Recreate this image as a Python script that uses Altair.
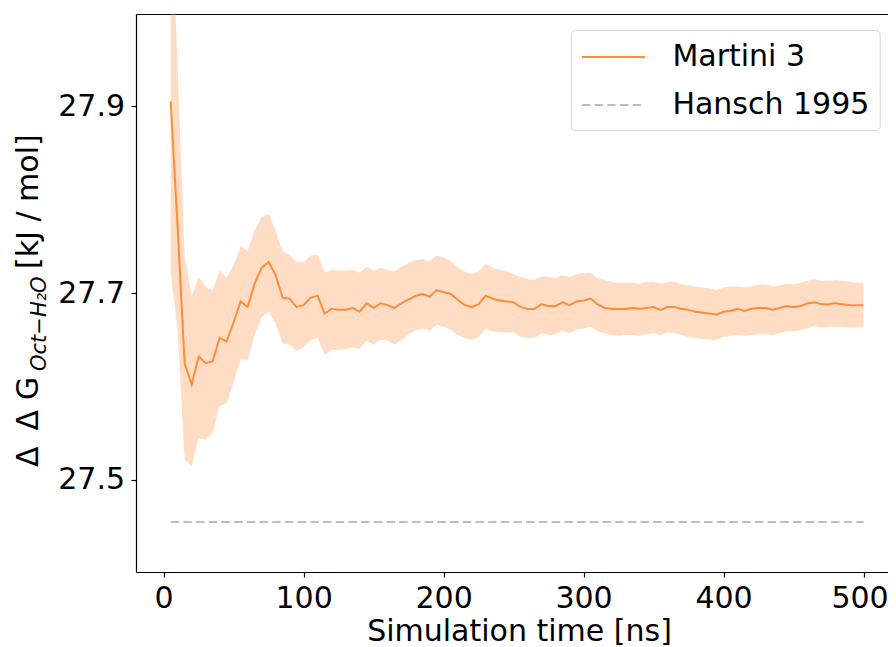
import altair as alt
import pandas as pd

# ---------------- data ----------------
time_ns = [5, 10, 15, 20, 25, 30, 35, 40, 45, 50,
           55, 60, 65, 70, 75, 80, 85, 90, 95, 100,
           105, 110, 115, 120, 125, 130, 135, 140, 145, 150,
           155, 160, 165, 170, 175, 180, 185, 190, 195, 200,
           205, 210, 215, 220, 225, 230, 235, 240, 245, 250,
           255, 260, 265, 270, 275, 280, 285, 290, 295, 300,
           305, 310, 315, 320, 325, 330, 335, 340, 345, 350,
           355, 360, 365, 370, 375, 380, 385, 390, 395, 400,
           405, 410, 415, 420, 425, 430, 435, 440, 445, 450,
           455, 460, 465, 470, 475, 480, 485, 490, 495, 500]

martini_mean = [27.905, 27.770, 27.625, 27.602, 27.632, 27.625, 27.627, 27.652, 27.648, 27.669,
                27.691, 27.685, 27.710, 27.727, 27.733, 27.719, 27.695, 27.694, 27.685, 27.687,
                27.695, 27.697, 27.678, 27.683, 27.682, 27.682, 27.684, 27.680, 27.689, 27.684,
                27.689, 27.687, 27.684, 27.689, 27.693, 27.697, 27.699, 27.696, 27.703, 27.701,
                27.699, 27.693, 27.687, 27.685, 27.688, 27.697, 27.694, 27.692, 27.691, 27.690,
                27.685, 27.683, 27.683, 27.688, 27.686, 27.686, 27.690, 27.687, 27.691, 27.692,
                27.694, 27.688, 27.684, 27.683, 27.683, 27.683, 27.684, 27.683, 27.684, 27.685,
                27.682, 27.685, 27.685, 27.683, 27.682, 27.680, 27.679, 27.678, 27.677, 27.680,
                27.681, 27.683, 27.681, 27.683, 27.684, 27.684, 27.682, 27.684, 27.686, 27.685,
                27.686, 27.689, 27.690, 27.688, 27.688, 27.689, 27.688, 27.687, 27.687, 27.687]

martini_upper = [28.140, 27.940, 27.740, 27.696, 27.717, 27.707, 27.703, 27.724, 27.716, 27.730,
                 27.750, 27.745, 27.767, 27.781, 27.785, 27.767, 27.744, 27.741, 27.733, 27.733,
                 27.740, 27.741, 27.722, 27.725, 27.724, 27.724, 27.725, 27.722, 27.728, 27.724,
                 27.727, 27.725, 27.723, 27.728, 27.732, 27.735, 27.736, 27.734, 27.740, 27.738,
                 27.734, 27.728, 27.723, 27.720, 27.723, 27.731, 27.727, 27.725, 27.723, 27.720,
                 27.717, 27.715, 27.714, 27.718, 27.717, 27.716, 27.719, 27.717, 27.720, 27.721,
                 27.722, 27.716, 27.714, 27.712, 27.711, 27.711, 27.711, 27.710, 27.712, 27.712,
                 27.710, 27.712, 27.712, 27.709, 27.708, 27.707, 27.706, 27.705, 27.703, 27.706,
                 27.707, 27.707, 27.706, 27.707, 27.709, 27.709, 27.707, 27.708, 27.710, 27.709,
                 27.711, 27.713, 27.715, 27.713, 27.713, 27.714, 27.713, 27.712, 27.711, 27.711]

martini_lower = [27.723, 27.660, 27.522, 27.515, 27.545, 27.543, 27.551, 27.579, 27.582, 27.605,
                 27.629, 27.628, 27.655, 27.674, 27.680, 27.668, 27.646, 27.645, 27.638, 27.642,
                 27.650, 27.652, 27.634, 27.639, 27.639, 27.640, 27.642, 27.640, 27.649, 27.645,
                 27.650, 27.649, 27.645, 27.650, 27.656, 27.660, 27.662, 27.660, 27.666, 27.664,
                 27.661, 27.655, 27.652, 27.650, 27.653, 27.662, 27.659, 27.658, 27.658, 27.658,
                 27.653, 27.652, 27.652, 27.657, 27.655, 27.656, 27.660, 27.657, 27.661, 27.662,
                 27.664, 27.659, 27.657, 27.655, 27.654, 27.655, 27.655, 27.654, 27.656, 27.657,
                 27.655, 27.658, 27.657, 27.655, 27.653, 27.652, 27.651, 27.650, 27.650, 27.653,
                 27.654, 27.655, 27.654, 27.655, 27.656, 27.656, 27.655, 27.657, 27.659, 27.659,
                 27.660, 27.662, 27.665, 27.663, 27.664, 27.664, 27.664, 27.663, 27.663, 27.664]

hansch_time = [5, 500]
hansch_value = [27.455, 27.455]

series_names = ["Martini 3", "Hansch 1995"]
series_colors = ["#fd8d3c", "#bdbdbd"]
series_dashes = [[1, 0], [8.5, 4.2]]

x_ticks = [0, 100, 200, 300, 400, 500]
y_ticks = [27.5, 27.7, 27.9]

FONT = "DejaVu Sans"

# ---------------- tables ----------------
band_df = pd.DataFrame({"t": time_ns, "lo": martini_lower, "hi": martini_upper})
line_df = pd.concat([
    pd.DataFrame({"t": time_ns, "v": martini_mean, "series": series_names[0]}),
    pd.DataFrame({"t": hansch_time, "v": hansch_value, "series": series_names[1]}),
], ignore_index=True)

xscale = alt.Scale(domain=[-19.75, 517.5], nice=False, zero=False)
yscale = alt.Scale(domain=[27.4016, 27.9984], nice=False, zero=False)

y_axis = alt.Axis(values=y_ticks, format=".1f", title=None, labelPadding=6.5,
                  tickSize=5, grid=False)

band = alt.Chart(band_df).mark_area(color="#fd8d3c", opacity=0.3, clip=True).encode(
    x=alt.X("t:Q", scale=xscale,
            axis=alt.Axis(values=x_ticks, title="Simulation time [ns]", grid=False,
                          tickSize=5, labelPadding=6, labelFlush=False,
                          labelOverlap=False, titleX=383, titleY=68,
                          titleBaseline="alphabetic",
                          labelOffset={"condition": {"test": "datum.value === 500",
                                                     "value": -4},
                                       "value": 0})),
    y=alt.Y("lo:Q", scale=yscale, axis=y_axis),
    y2="hi:Q",
)

legend = alt.Legend(title=None, orient="none", legendX=434.7, legendY=16,
                    direction="vertical", fillColor="white", strokeColor="#d6d6d6",
                    cornerRadius=4, padding=10, labelFont=FONT, labelFontSize=30,
                    labelColor="black", labelLimit=0, symbolType="M-1,0L3,0",
                    symbolSize=1000, symbolStrokeWidth=2, labelOffset=57.7,
                    rowPadding=16)

lines = alt.Chart(line_df).mark_line(strokeWidth=2, clip=True).encode(
    x=alt.X("t:Q", scale=xscale,
            axis=alt.Axis(orient="top", labels=False, ticks=False, domain=True,
                          title=None, grid=False)),
    y=alt.Y("v:Q", scale=yscale, axis=y_axis),
    color=alt.Color("series:N", scale=alt.Scale(domain=series_names, range=series_colors),
                    legend=legend),
    strokeDash=alt.StrokeDash("series:N",
                              scale=alt.Scale(domain=series_names, range=series_dashes),
                              legend=legend),
)

# y-axis title pieces (mathtext-like with subscript)
def title_piece(txt, px, py, size=30, style="normal"):
    return alt.Chart(pd.DataFrame({"k": [0]})).mark_text(
        angle=270, align="left", baseline="alphabetic", font=FONT,
        fontSize=size, fontStyle=style, color="black"
    ).encode(x=alt.value(px), y=alt.value(py), text=alt.value(txt))

ytitle = [
    title_piece("Δ", -98, 453),
    title_piece("Δ", -98, 416.5),
    title_piece("G", -98, 386),
    title_piece("Oct−H₂O", -89.6, 357, size=21, style="italic"),
    title_piece("[kJ / mol]", -98, 255),
]

chart = alt.layer(band, lines, *ytitle).resolve_axis(x="independent").properties(
    width=752, height=558,
    padding={"left": 128, "top": 6, "right": 0, "bottom": 80},
    autosize=alt.AutoSizeParams(type="none"),
).configure_view(stroke=None).configure_axis(
    domainColor="black", domainWidth=1.2, tickColor="black", tickWidth=1.2,
    labelFont=FONT, labelFontSize=30, labelColor="black",
    titleFont=FONT, titleFontSize=30, titleColor="black", titleFontWeight="normal",
)

chart.save("out.html", embed_options={"renderer": "svg", "actions": False})
